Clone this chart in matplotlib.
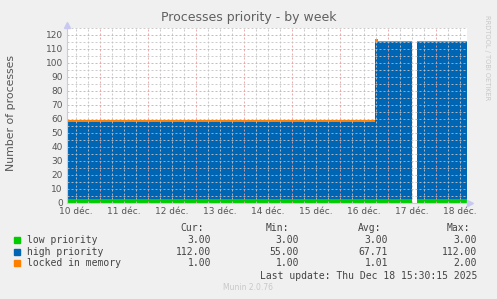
import numpy as np
import pandas as pd
import matplotlib
matplotlib.use("Agg")
import matplotlib.pyplot as plt
from matplotlib.patches import Rectangle

# step intervals (start, end) and stacked values
starts = pd.to_datetime(["2025-12-10 07:30", "2025-12-16 17:30",
                         "2025-12-16 19:00", "2025-12-17 14:30"])
ends = pd.to_datetime(["2025-12-16 17:30", "2025-12-16 19:00",
                       "2025-12-17 12:00", "2025-12-18 15:30"])
low_priority = [3, 3, 3, 3]
high_priority = [55, 112, 112, 112]
locked_memory = [1, 2, 1, 1]

series_names = ["low priority", "high priority", "locked in memory"]
series_colors = ["#00CC00", "#0066B3", "#FF8000"]
cur = ["3.00", "112.00", "1.00"]
mins = ["3.00", "55.00", "1.00"]
avgs = ["3.00", "67.71", "1.01"]
maxs = ["3.00", "112.00", "2.00"]

day_labels = ["10 déc.", "11 déc.", "12 déc.", "13 déc.", "14 déc.",
              "15 déc.", "16 déc.", "17 déc.", "18 déc."]

W, H = 497, 299
BG = "#f0f0f0"
TXT = "#555555"
MONO = "DejaVu Sans Mono"
RED_GRID = "#e8a0a0"
GRAY_GRID = "#c4c4c4"

fig = plt.figure(figsize=(W / 100, H / 100), dpi=100, facecolor=BG)
ax = fig.add_axes([67 / W, 96 / H, 400 / W, 175 / H])
ax.set_facecolor("white")

t0 = pd.Timestamp("2025-12-10 07:30")
t1 = pd.Timestamp("2025-12-18 15:30")

widths = ends - starts
bottom = np.zeros(len(starts))
for vals, col in zip([low_priority, high_priority, locked_memory], series_colors):
    ax.bar(starts, vals, width=widths, bottom=bottom, align="edge",
           color=col, linewidth=0, zorder=1)
    bottom = bottom + np.array(vals)

ax.set_xlim(t0, t1)
ax.set_ylim(0, 125)

# grid: gray every 6h / 5 units, red at midnight / every 10
dash = (0, (2, 2))
for t in pd.date_range("2025-12-10 12:00", t1, freq="6h"):
    major = t.hour == 0
    ax.axvline(t, color=RED_GRID if major else GRAY_GRID, lw=0.72,
               ls=dash, alpha=0.85, zorder=2)
for v in range(5, 126, 5):
    major = v % 10 == 0
    ax.axhline(v, color=RED_GRID if major else GRAY_GRID, lw=0.72,
               ls=dash, alpha=0.85, zorder=2, clip_on=False)

noons = pd.date_range("2025-12-10 12:00", periods=len(day_labels), freq="D")
ax.set_xticks(noons)
ax.set_xticklabels(day_labels)
ax.set_yticks(range(0, 121, 10))
ax.tick_params(length=0, labelsize=6.5, colors=TXT, pad=3)

for s in ["top", "right"]:
    ax.spines[s].set_visible(False)
for s in ["left", "bottom"]:
    ax.spines[s].set_color("#c8c8f0")
    ax.spines[s].set_linewidth(0.8)
    ax.spines[s].set_zorder(3)
ax.plot([0], [1.02], marker="^", ms=4, color="#c8c8f0", transform=ax.transAxes, clip_on=False)
ax.plot([1.008], [0], marker=">", ms=4, color="#c8c8f0", transform=ax.transAxes, clip_on=False)

fig.text(249 / W, 1 - 18 / H, "Processes priority - by week", ha="center", va="center",
         fontsize=9, color="#606060")
fig.text(11 / W, 1 - 113 / H, "Number of processes", rotation=90, ha="center",
         va="center", fontsize=7.8, color=TXT)
fig.text(487 / W, 1 - 58 / H, "RRDTOOL / TOBI OETIKER", rotation=270, ha="center",
         va="center", fontsize=4.8, color="#c8c8c8")

# legend table
def ftxt(px, py, s, ha="left", **kw):
    fig.text(px / W, 1 - py / H, s, ha=ha, va="center", family=MONO,
             fontsize=7, color="#444444", **kw)

ftxt(204, 228, "Cur:", ha="right")
ftxt(289, 228, "Min:", ha="right")
ftxt(381, 228, "Avg:", ha="right")
ftxt(470, 228, "Max:", ha="right")
for i, name in enumerate(series_names):
    py = 240 + i * 11.7
    fig.patches.append(Rectangle((14 / W, 1 - (py + 3) / H), 6 / W, 6 / H,
                                 transform=fig.transFigure, color=series_colors[i]))
    ftxt(27, py, name)
    ftxt(211, py, cur[i], ha="right")
    ftxt(299, py, mins[i], ha="right")
    ftxt(388, py, avgs[i], ha="right")
    ftxt(477, py, maxs[i], ha="right")
ftxt(477, 276, "Last update: Thu Dec 18 15:30:15 2025", ha="right")
fig.text(248 / W, 1 - 288 / H, "Munin 2.0.76", ha="center", va="center",
         fontsize=5.5, color="#c8c8c8")

fig.savefig("out.png", dpi=100, facecolor=BG)
